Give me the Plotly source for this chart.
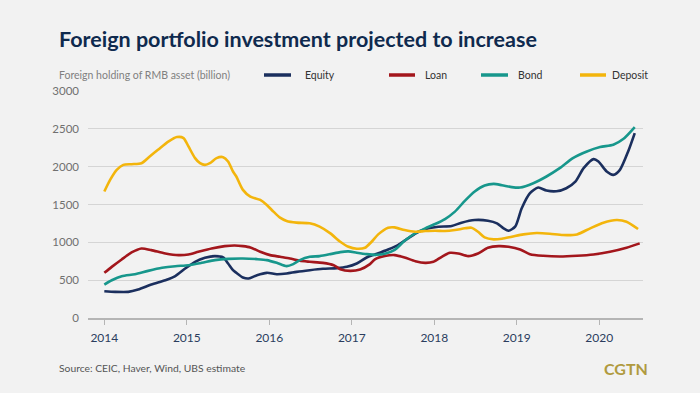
import plotly.graph_objects as go

# ---------------- data (billion RMB) ----------------
equity_x = [2014.00, 2014.13, 2014.29, 2014.41, 2014.57, 2014.74, 2014.86, 2014.98, 2015.10, 2015.22,
            2015.34, 2015.44, 2015.50, 2015.56, 2015.60, 2015.68, 2015.75, 2015.85, 2015.97, 2016.09,
            2016.21, 2016.33, 2016.49, 2016.65, 2016.82, 2016.94, 2017.06, 2017.18, 2017.28, 2017.44,
            2017.56, 2017.68, 2017.81, 2017.93, 2018.05, 2018.21, 2018.33, 2018.49, 2018.65, 2018.76,
            2018.84, 2018.90, 2018.98, 2019.06, 2019.16, 2019.26, 2019.36, 2019.48, 2019.60, 2019.71,
            2019.81, 2019.93, 2019.99, 2020.09, 2020.17, 2020.25, 2020.35, 2020.43]
equity_y = [354, 345, 345, 376, 442, 499, 553, 654, 743, 796,
            818, 800, 720, 632, 597, 535, 522, 566, 597, 579,
            588, 610, 632, 650, 659, 676, 720, 800, 840, 906,
            964, 1052, 1140, 1185, 1207, 1216, 1260, 1295, 1286, 1251,
            1185, 1154, 1207, 1450, 1649, 1724, 1684, 1675, 1715, 1803,
            1980, 2100, 2069, 1936, 1892, 1958, 2201, 2444]

loan_x = [2014.00, 2014.09, 2014.21, 2014.33, 2014.45, 2014.57, 2014.74, 2014.90, 2015.02, 2015.14,
          2015.30, 2015.46, 2015.58, 2015.68, 2015.77, 2015.89, 2016.01, 2016.13, 2016.25, 2016.37,
          2016.49, 2016.65, 2016.78, 2016.86, 2016.98, 2017.10, 2017.22, 2017.28, 2017.40, 2017.52,
          2017.64, 2017.77, 2017.89, 2017.99, 2018.09, 2018.19, 2018.29, 2018.41, 2018.53, 2018.65,
          2018.78, 2018.90, 2019.04, 2019.16, 2019.32, 2019.52, 2019.73, 2019.93, 2020.13, 2020.33,
          2020.49]
loan_y = [597, 676, 774, 866, 919, 897, 853, 831, 840, 875,
          919, 950, 959, 950, 933, 875, 831, 809, 787, 756,
          743, 729, 698, 645, 623, 641, 712, 774, 818, 831,
          800, 751, 729, 743, 809, 862, 853, 818, 853, 928,
          950, 941, 906, 844, 822, 813, 822, 840, 875, 928,
          986]

bond_x = [2014.00, 2014.09, 2014.21, 2014.37, 2014.53, 2014.70, 2014.86, 2015.02, 2015.18, 2015.34,
          2015.50, 2015.68, 2015.85, 2015.97, 2016.09, 2016.21, 2016.29, 2016.37, 2016.49, 2016.61,
          2016.74, 2016.86, 2016.96, 2017.06, 2017.18, 2017.30, 2017.40, 2017.52, 2017.64, 2017.77,
          2017.89, 2018.01, 2018.13, 2018.25, 2018.37, 2018.49, 2018.61, 2018.72, 2018.82, 2018.94,
          2019.04, 2019.20, 2019.36, 2019.52, 2019.68, 2019.85, 2020.01, 2020.17, 2020.29, 2020.43]
bond_y = [442, 499, 553, 579, 623, 663, 685, 698, 729, 765,
          782, 787, 778, 765, 729, 685, 712, 765, 809, 818,
          844, 871, 880, 862, 844, 835, 850, 900, 1020, 1120,
          1185, 1242, 1308, 1406, 1547, 1671, 1750, 1772, 1755, 1730,
          1724, 1781, 1870, 1980, 2113, 2201, 2259, 2290, 2365, 2524]

deposit_x = [2014.00, 2014.07, 2014.15, 2014.23, 2014.33, 2014.45, 2014.55, 2014.65, 2014.78, 2014.88,
             2014.96, 2015.02, 2015.10, 2015.16, 2015.22, 2015.28, 2015.36, 2015.44, 2015.50, 2015.56,
             2015.60, 2015.68, 2015.77, 2015.89, 2015.97, 2016.05, 2016.13, 2016.21, 2016.33, 2016.49,
             2016.61, 2016.74, 2016.86, 2016.96, 2017.06, 2017.16, 2017.24, 2017.32, 2017.44, 2017.52,
             2017.64, 2017.77, 2017.89, 2018.01, 2018.13, 2018.25, 2018.37, 2018.45, 2018.53, 2018.61,
             2018.72, 2018.82, 2018.94, 2019.08, 2019.24, 2019.40, 2019.56, 2019.73, 2019.89, 2020.05,
             2020.21, 2020.33, 2020.47]
deposit_y = [1671, 1825, 1958, 2024, 2033, 2046, 2135, 2223, 2334, 2391,
             2378, 2267, 2113, 2046, 2024, 2046, 2113, 2126, 2069, 1936,
             1870, 1693, 1604, 1560, 1494, 1406, 1326, 1282, 1260, 1251,
             1207, 1118, 1008, 941, 915, 928, 1008, 1105, 1193, 1198,
             1162, 1140, 1149, 1154, 1149, 1162, 1185, 1193, 1140, 1065,
             1039, 1048, 1074, 1105, 1123, 1114, 1096, 1105, 1185, 1260,
             1295, 1273, 1176]

series_names = ["Equity", "Loan", "Bond", "Deposit"]
series_colors = ["#1b2f5e", "#a3161c", "#17978c", "#f3b50c"]
year_ticks = [2014, 2015, 2016, 2017, 2018, 2019, 2020]
y_ticks = [0, 500, 1000, 1500, 2000, 2500, 3000]

title_text = "Foreign portfolio investment projected to increase"
subtitle_text = "Foreign holding of RMB asset (billion)"
source_text = "Source: CEIC, Haver, Wind, UBS estimate"
brand_text = "CGTN"

# ---------------- layout geometry (pixels) ----------------
W, H = 700, 393
L, R, T, B = 88, 57, 91, 75
PW, PH = W - L - R, H - T - B

def px(x):
    return (x - L) / PW

def py(y):
    return (H - B - y) / PH

FONT = "Lato, Roboto, sans-serif"

fig = go.Figure()
xs = [equity_x, loan_x, bond_x, deposit_x]
ys = [equity_y, loan_y, bond_y, deposit_y]
for name, col, x, y in zip(series_names, series_colors, xs, ys):
    fig.add_trace(go.Scatter(x=x, y=y, mode="lines", name=name,
                             line=dict(color=col, width=2.6, shape="spline", smoothing=0.7),
                             showlegend=False, hoverinfo="x+y+name"))

# custom legend
leg_line_x = [(264, 291), (389, 415), (481, 508), (580, 606)]
leg_text_x = [303, 423, 516, 610]
shapes = []
annotations = []
for name, col, (a, b), tx in zip(series_names, series_colors, leg_line_x, leg_text_x):
    shapes.append(dict(type="line", xref="paper", yref="paper", x0=px(a), x1=px(b),
                       y0=py(75), y1=py(75), line=dict(color=col, width=3.5)))
    annotations.append(dict(text=name, xref="paper", yref="paper", x=px(tx), y=py(75),
                            xanchor="left", yanchor="middle", showarrow=False,
                            font=dict(family=FONT, size=10.5, color="#333333")))

annotations.append(dict(text="<b>" + title_text + "</b>", xref="paper", yref="paper",
                        x=px(57), y=py(38.5), xanchor="left", yanchor="middle", showarrow=False,
                        font=dict(family=FONT, size=21.5, color="#0f2a4e")))
annotations.append(dict(text=subtitle_text, xref="paper", yref="paper",
                        x=px(57), y=py(75), xanchor="left", yanchor="middle", showarrow=False,
                        font=dict(family=FONT, size=10.5, color="#808080")))
annotations.append(dict(text=source_text, xref="paper", yref="paper",
                        x=px(57), y=py(368), xanchor="left", yanchor="middle", showarrow=False,
                        font=dict(family=FONT, size=10.3, color="#555555")))
annotations.append(dict(text="<b>" + brand_text + "</b>", xref="paper", yref="paper",
                        x=px(650), y=py(368), xanchor="right", yanchor="middle", showarrow=False,
                        font=dict(family=FONT, size=16, color="#b09a3f")))

fig.update_layout(
    width=W, height=H,
    margin=dict(l=L, r=R, t=T, b=B, pad=0),
    paper_bgcolor="#f2f2f2", plot_bgcolor="#f2f2f2",
    shapes=shapes, annotations=annotations,
    showlegend=False,
    font=dict(family=FONT),
)
fig.update_xaxes(range=[2013.802, 2020.530], tickvals=year_ticks,
                 ticktext=[str(v) for v in year_ticks],
                 showgrid=False, zeroline=False,
                 showline=True, linecolor="#b5b5b5", linewidth=1.5,
                 ticks="outside", ticklen=5, tickcolor="#b5b5b5", tickwidth=1,
                 tickfont=dict(family=FONT, size=12, color="#2b3d5e"),
                 ticklabelstandoff=3, fixedrange=True)
fig.update_yaxes(range=[0, 3000], tickvals=y_ticks, ticktext=[str(v) for v in y_ticks],
                 showgrid=True, gridcolor="#d5d5d5", gridwidth=1, zeroline=False,
                 showline=False, ticks="",
                 tickfont=dict(family=FONT, size=11.5, color="#707070"),
                 ticklabelstandoff=8, fixedrange=True)

fig.write_html("out.html", config={"displayModeBar": False},
               post_script="document.body.style.margin='0';document.body.style.background='#f2f2f2';")
